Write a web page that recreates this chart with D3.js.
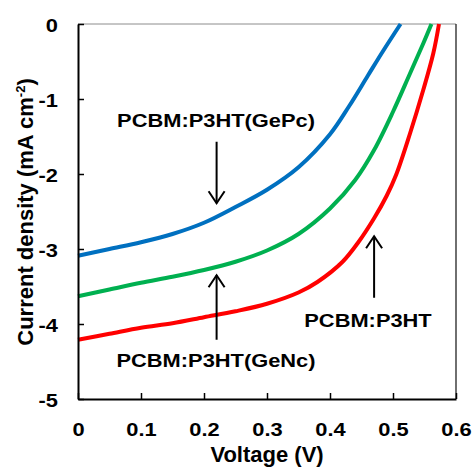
<!DOCTYPE html>
<html>
<head>
<meta charset="utf-8">
<script src="https://cdn.jsdelivr.net/npm/d3@7"></script>
<style>
  body { margin: 0; background: #fff; }
  svg { display: block; }
  text { font-family: "Liberation Sans", Arial, sans-serif; font-weight: bold; fill: #000; }
</style>
</head>
<body>
<svg id="chart" width="473" height="467"></svg>
<script>
// values
const gepc_v = [0, 0.05, 0.1, 0.15, 0.2, 0.25, 0.3, 0.35, 0.4, 0.43, 0.46, 0.485, 0.512];
const gepc_j = [-3.09, -3.0, -2.91, -2.80, -2.65, -2.44, -2.21, -1.91, -1.47, -1.10, -0.69, -0.35, 0];

const genc_v = [0, 0.05, 0.1, 0.15, 0.2, 0.25, 0.3, 0.35, 0.4, 0.44, 0.47, 0.5, 0.527, 0.548, 0.561];
const genc_j = [-3.63, -3.54, -3.45, -3.37, -3.28, -3.17, -3.02, -2.80, -2.46, -2.08, -1.68, -1.17, -0.66, -0.26, 0];

const ref_v = [0, 0.05, 0.1, 0.15, 0.2, 0.25, 0.3, 0.35, 0.38, 0.42, 0.445, 0.47, 0.49, 0.505, 0.527, 0.548, 0.564, 0.573];
const ref_j = [-4.21, -4.13, -4.05, -3.99, -3.91, -3.83, -3.73, -3.58, -3.44, -3.17, -2.91, -2.59, -2.29, -2.01, -1.46, -0.88, -0.39, 0];

const x_ticks = [0, 0.1, 0.2, 0.3, 0.4, 0.5, 0.6];
const y_ticks = [0, -1, -2, -3, -4, -5];

const series = [
    { name: "PCBM:P3HT(GePc)", v: gepc_v, j: gepc_j, color: "#0070C0" },
    { name: "PCBM:P3HT(GeNc)", v: genc_v, j: genc_j, color: "#00B050" },
    { name: "PCBM:P3HT", v: ref_v, j: ref_j, color: "#FF0000" }
];

// label, arrow x (V), arrow tip (J), arrow tail (J), text anchor point
const notes = [
    { text: "PCBM:P3HT(GePc)", av: 0.22, tip: -2.39, tail: -1.57, tx: 216, ty: 127, dir: "down" },
    { text: "PCBM:P3HT(GeNc)", av: 0.22, tip: -3.35, tail: -4.21, tx: 216, ty: 367, dir: "up" },
    { text: "PCBM:P3HT", av: 0.47, tip: -2.83, tail: -3.65, tx: 368, ty: 327, dir: "up" }
];

const mLeft = 78, mRight = 456, mTop = 24, mBottom = 399;
const stretch = 1.15;

const svg = d3.select("#chart");

const xScale = d3.scaleLinear().domain([0, 0.6]).range([mLeft, mRight]);
const yScale = d3.scaleLinear().domain([-5, 0]).range([mBottom, mTop]);

// frame
svg.append("line")
    .attr("x1", mLeft).attr("x2", mRight).attr("y1", mTop).attr("y2", mTop)
    .attr("stroke", "#8c8c8c").attr("stroke-width", 1);
svg.append("line")
    .attr("x1", mRight).attr("x2", mRight).attr("y1", mTop).attr("y2", mBottom)
    .attr("stroke", "#222").attr("stroke-width", 1.3);

// curves
const line = d3.line()
    .x(d => xScale(d[0]))
    .y(d => yScale(d[1]))
    .curve(d3.curveCatmullRom.alpha(0.5));

svg.append("g").selectAll("path")
    .data(series)
    .enter()
    .append("path")
    .attr("d", s => line(s.v.map((v, i) => [v, s.j[i]])))
    .attr("fill", "none")
    .attr("stroke", s => s.color)
    .attr("stroke-width", 4)
    .attr("stroke-linecap", "butt");

// axes
const xAxis = svg.append("g")
    .attr("transform", `translate(0, ${mBottom})`)
    .call(d3.axisBottom(xScale).tickValues(x_ticks).tickSizeInner(-6).tickSizeOuter(0).tickFormat(d => d === 0 ? "0" : d3.format(".1f")(d)));
const yAxis = svg.append("g")
    .attr("transform", `translate(${mLeft}, 0)`)
    .call(d3.axisLeft(yScale).tickValues(y_ticks).tickSizeInner(-6).tickSizeOuter(0).tickFormat(d => d === 0 ? "0" : "-" + Math.abs(d)));

[xAxis, yAxis].forEach(g => {
    g.select(".domain").attr("stroke", "#000").attr("stroke-width", 2);
    g.selectAll(".tick line").attr("stroke", "#000").attr("stroke-width", 1.5);
    g.selectAll(".tick text").attr("font-size", 19).attr("font-family", null);
});

xAxis.selectAll(".tick text")
    .attr("y", null).attr("dy", null)
    .attr("transform", `translate(0, 37) scale(${stretch}, 1)`);

yAxis.selectAll(".tick text")
    .attr("x", null).attr("dy", null)
    .attr("text-anchor", "end")
    .attr("transform", `translate(-20, 7) scale(${stretch}, 1)`);

// axis titles
svg.append("text")
    .attr("text-anchor", "middle")
    .attr("font-size", 22)
    .attr("transform", `translate(267, 462)`)
    .text("Voltage (V)");

const ytitle = svg.append("text")
    .attr("text-anchor", "middle")
    .attr("font-size", 22)
    .attr("transform", `translate(33, 212) rotate(-90)`);
ytitle.append("tspan").text("Current density (mA cm");
ytitle.append("tspan").attr("font-size", 13).attr("dy", -8).text("-2");
ytitle.append("tspan").attr("dy", 8).text(")");

// annotations
const gnote = svg.append("g");
notes.forEach(n => {
    const ax = xScale(n.av);
    const y1 = yScale(n.tail), y2 = yScale(n.tip);
    gnote.append("line")
        .attr("x1", ax).attr("x2", ax).attr("y1", y1).attr("y2", y2)
        .attr("stroke", "#000").attr("stroke-width", 2);
    const s = n.dir === "down" ? -1 : 1;
    gnote.append("path")
        .attr("d", `M${ax - 8},${y2 + s * 12}L${ax},${y2}L${ax + 8},${y2 + s * 12}`)
        .attr("fill", "none").attr("stroke", "#000").attr("stroke-width", 2);
    gnote.append("text")
        .attr("text-anchor", "middle")
        .attr("font-size", 19)
        .attr("transform", `translate(${n.tx}, ${n.ty}) scale(${stretch}, 1)`)
        .text(n.text);
});
</script>
</body>
</html>
